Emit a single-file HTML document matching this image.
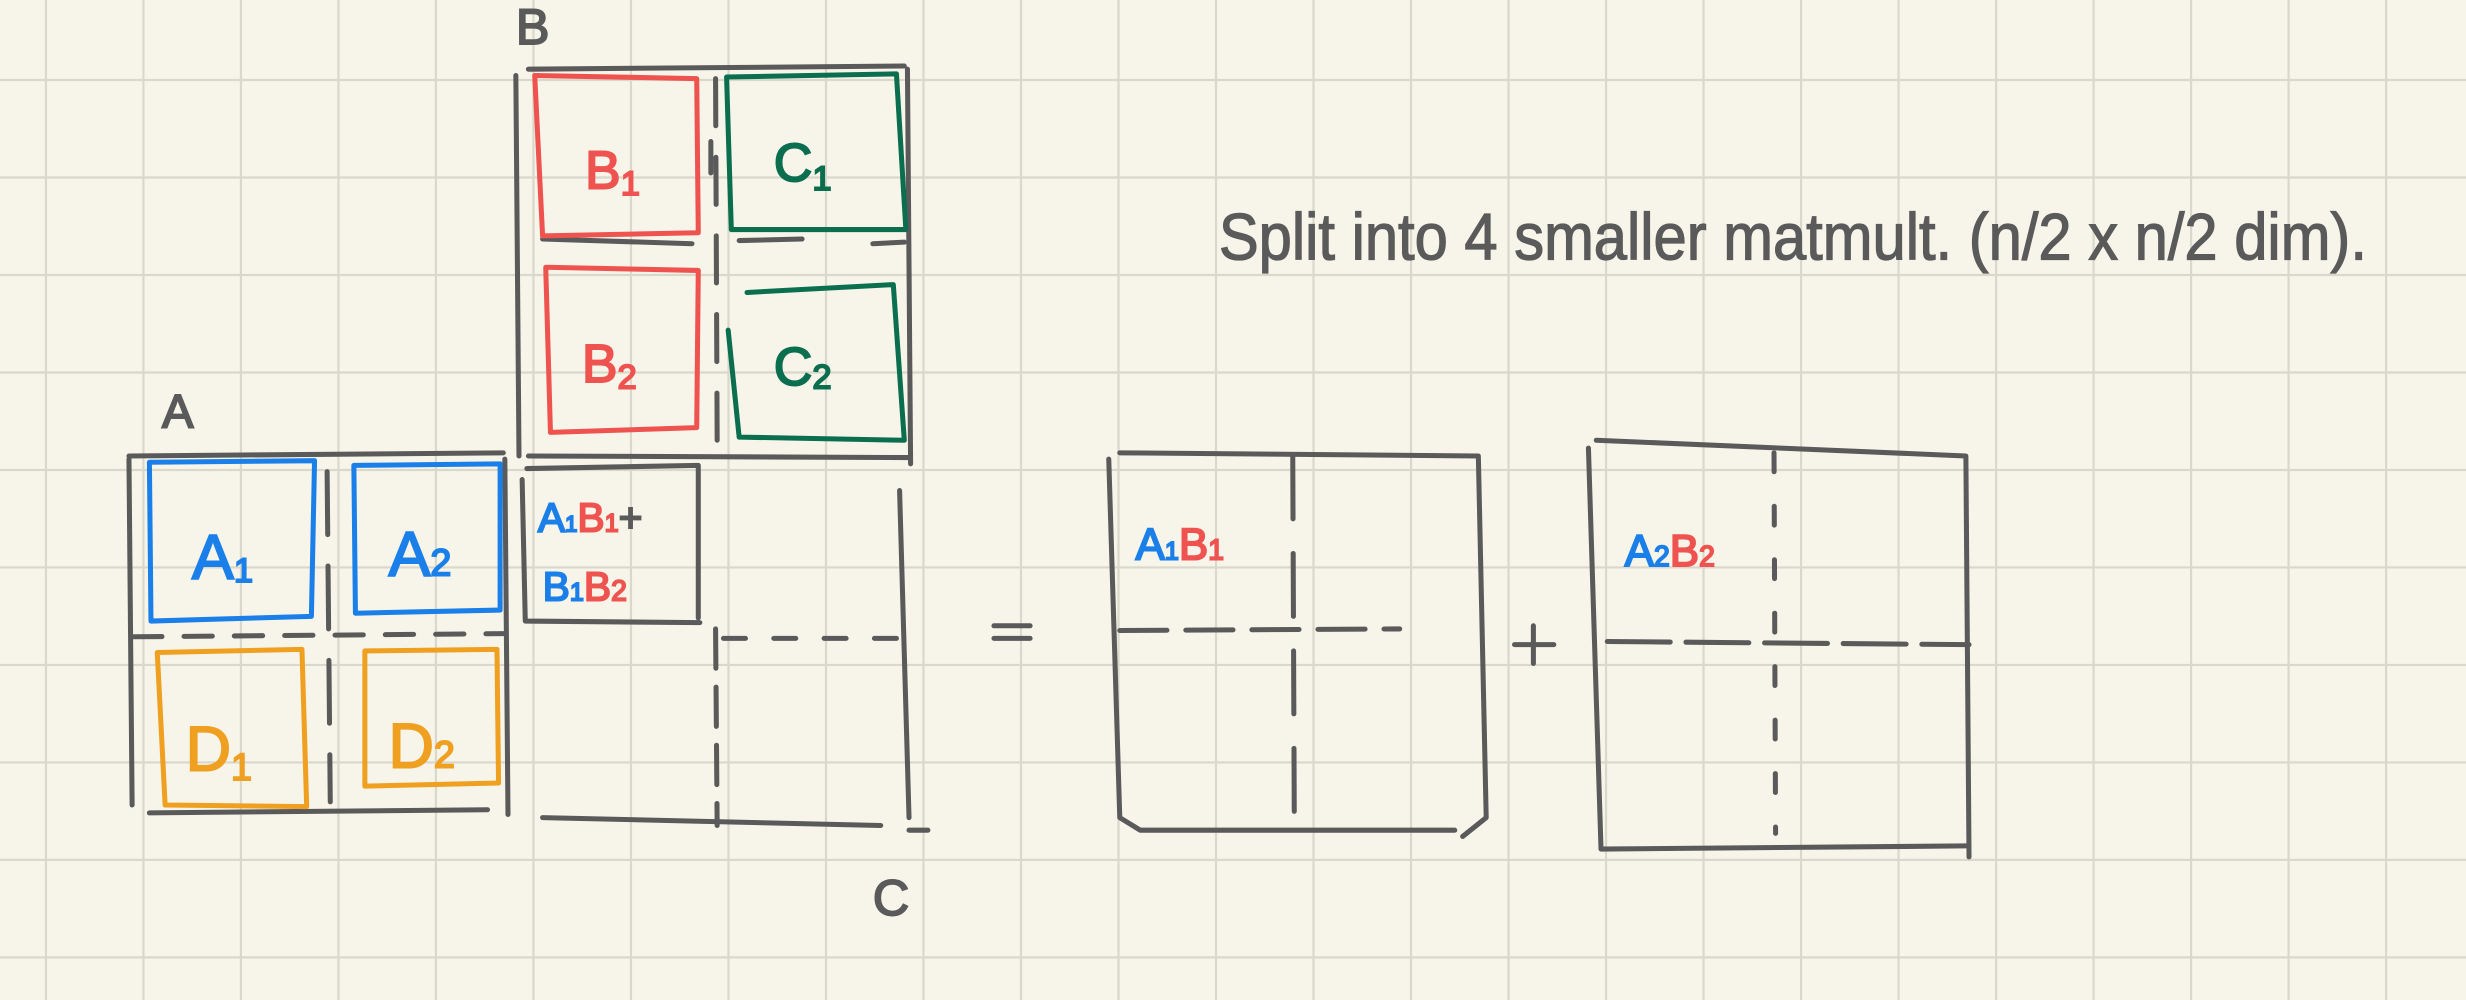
<!DOCTYPE html>
<html><head><meta charset="utf-8"><style>
html,body{margin:0;padding:0;background:#f7f5ea;}
svg{display:block}
text{font-family:"Liberation Sans Narrow","Liberation Sans",sans-serif;}
</style></head><body>
<svg width="2466" height="1000" viewBox="0 0 1568 636" preserveAspectRatio="none" xmlns="http://www.w3.org/2000/svg">
<rect x="0" y="0" width="1568" height="636" fill="#f7f5ea"/>
<g id="grid" stroke="#d9d8ca" stroke-width="1.4"></g>
<g fill="none" stroke-linecap="round" stroke-linejoin="round" stroke-width="3.2">
 <g stroke="#5a5a5a">
  <path d="M336 44 L575 42 M328 48 L330 290 M577 44 L579 295 M336 290 L578 291"/>
  <path d="M345 152 L440 155 M470 153 L510 152 M555 155 L575 154"/>
  <path d="M455 50 L456 280 M452 90 L452 110" stroke-dasharray="30 20"/>
 </g>
 <g stroke="#ef5350"><path d="M340 48 L443 50 L444 148 L345 150 Z"/></g>
 <g stroke="#ef5350"><path d="M347 170 L444 172 L443 272 L350 275 Z"/></g>
 <g stroke="#0b6e4f"><path d="M462 49 L570 47 L576 146 L465 146 Z"/></g>
 <g stroke="#0b6e4f"><path d="M475 186 L568 181 L575 280 L470 278 L463 210"/></g>
 <g stroke="#5a5a5a">
  <path d="M82 290 L320 288 M82 292 L84 512 M321 292 L323 518 M95 517 L310 515"/>
  <path d="M85 405 L320 403" stroke-dasharray="18 14"/>
  <path d="M208 300 L210 510" stroke-dasharray="40 20"/>
 </g>
 <g stroke="#1a7fe8"><path d="M95 294 L200 293 L198 392 L96 395 Z"/></g>
 <g stroke="#1a7fe8"><path d="M225 296 L318 295 L318 388 L226 390 Z"/></g>
 <g stroke="#f0a020"><path d="M100 415 L192 413 L195 513 L105 512 Z"/></g>
 <g stroke="#f0a020"><path d="M232 414 L316 413 L317 498 L232 500 Z"/></g>
 <g stroke="#5a5a5a">
  <path d="M335 298 L444 296 L444 393 M332 305 L334 395 L445 396 M345 520 L560 525 M572 312 L578 520 M578 528 L590 528"/>
  <path d="M455 400 L456 525" stroke-dasharray="25 12"/>
  <path d="M460 406 L578 406" stroke-dasharray="14 18"/>
 </g>
 <path stroke="#5a5a5a" d="M632 398 L655 398 M632 406 L655 406"/>
 <path stroke="#5a5a5a" d="M963 410 L988 410 M975 398 L975 422"/>
 <g stroke="#5a5a5a">
  <path d="M712 288 L940 290 L945 520 L930 532 M705 292 L712 520 L725 528 L925 528"/>
  <path d="M822 290 L823 528" stroke-dasharray="40 22"/>
  <path d="M712 401 L890 400" stroke-dasharray="30 12"/>
 </g>
 <g stroke="#5a5a5a">
  <path d="M1015 280 L1250 290 L1252 545 M1010 285 L1018 540 L1250 538"/>
  <path d="M1128 288 L1129 530" stroke-dasharray="12 22"/>
  <path d="M1022 408 L1252 410" stroke-dasharray="40 10"/>
 </g>
</g>
<g font-size="34" stroke-width="1.2">
 <text x="328" y="28" fill="#5a5a5a" stroke="#5a5a5a" font-size="32">B</text>
 <text x="103" y="272" fill="#5a5a5a" stroke="#5a5a5a" font-size="30">A</text>
 <text x="555" y="582" fill="#5a5a5a" stroke="#5a5a5a" font-size="32">C</text>
 <text x="372" y="120" fill="#ef5350" stroke="#ef5350">B<tspan font-size="22" dy="4">1</tspan></text>
 <text x="492" y="115" fill="#0b6e4f" stroke="#0b6e4f">C<tspan font-size="22" dy="6">1</tspan></text>
 <text x="370" y="243" fill="#ef5350" stroke="#ef5350">B<tspan font-size="22" dy="4">2</tspan></text>
 <text x="492" y="245" fill="#0b6e4f" stroke="#0b6e4f">C<tspan font-size="22" dy="2">2</tspan></text>
 <text x="122" y="368" fill="#1a7fe8" stroke="#1a7fe8" font-size="40">A<tspan font-size="22" dy="2">1</tspan></text>
 <text x="247" y="366" fill="#1a7fe8" stroke="#1a7fe8" font-size="40">A<tspan font-size="24" dy="0">2</tspan></text>
 <text x="118" y="490" fill="#f0a020" stroke="#f0a020" font-size="40">D<tspan font-size="24" dy="6">1</tspan></text>
 <text x="247" y="488" fill="#f0a020" stroke="#f0a020" font-size="40">D<tspan font-size="24" dy="0">2</tspan></text>
 <text x="342" y="338" font-size="26"><tspan fill="#1a7fe8" stroke="#1a7fe8">A<tspan font-size="14">1</tspan></tspan><tspan fill="#ef5350" stroke="#ef5350">B<tspan font-size="16">1</tspan></tspan><tspan fill="#5a5a5a" stroke="#5a5a5a">+</tspan></text>
 <text x="345" y="382" font-size="26"><tspan fill="#1a7fe8" stroke="#1a7fe8">B<tspan font-size="16">1</tspan></tspan><tspan fill="#ef5350" stroke="#ef5350">B<tspan font-size="18">2</tspan></tspan></text>
 <text x="722" y="356" font-size="28"><tspan fill="#1a7fe8" stroke="#1a7fe8">A<tspan font-size="16">1</tspan></tspan><tspan fill="#ef5350" stroke="#ef5350">B<tspan font-size="18">1</tspan></tspan></text>
 <text x="1033" y="360" font-size="28"><tspan fill="#1a7fe8" stroke="#1a7fe8">A<tspan font-size="18">2</tspan></tspan><tspan fill="#ef5350" stroke="#ef5350">B<tspan font-size="18">2</tspan></tspan></text>
 <text x="775" y="165" fill="#5a5a5a" stroke="#5a5a5a" stroke-width="0.8" font-size="42" textLength="730" lengthAdjust="spacingAndGlyphs">Split into 4 smaller matmult. (n/2 x n/2 dim).</text>
</g>
</svg>
<script>
const g=document.getElementById('grid');
const ns='http://www.w3.org/2000/svg';
for(let x=29.2;x<1568;x+=62){const l=document.createElementNS(ns,'line');


l.setAttribute('x1',x);l.setAttribute('x2',x);l.setAttribute('y1',0);l.setAttribute('y2',636);g.appendChild(l);}
for(let y=50.9;y<636;y+=62){const l=document.createElementNS(ns,'line');


l.setAttribute('y1',y);l.setAttribute('y2',y);l.setAttribute('x1',0);l.setAttribute('x2',1568);g.appendChild(l);}
</script>
</body></html>
